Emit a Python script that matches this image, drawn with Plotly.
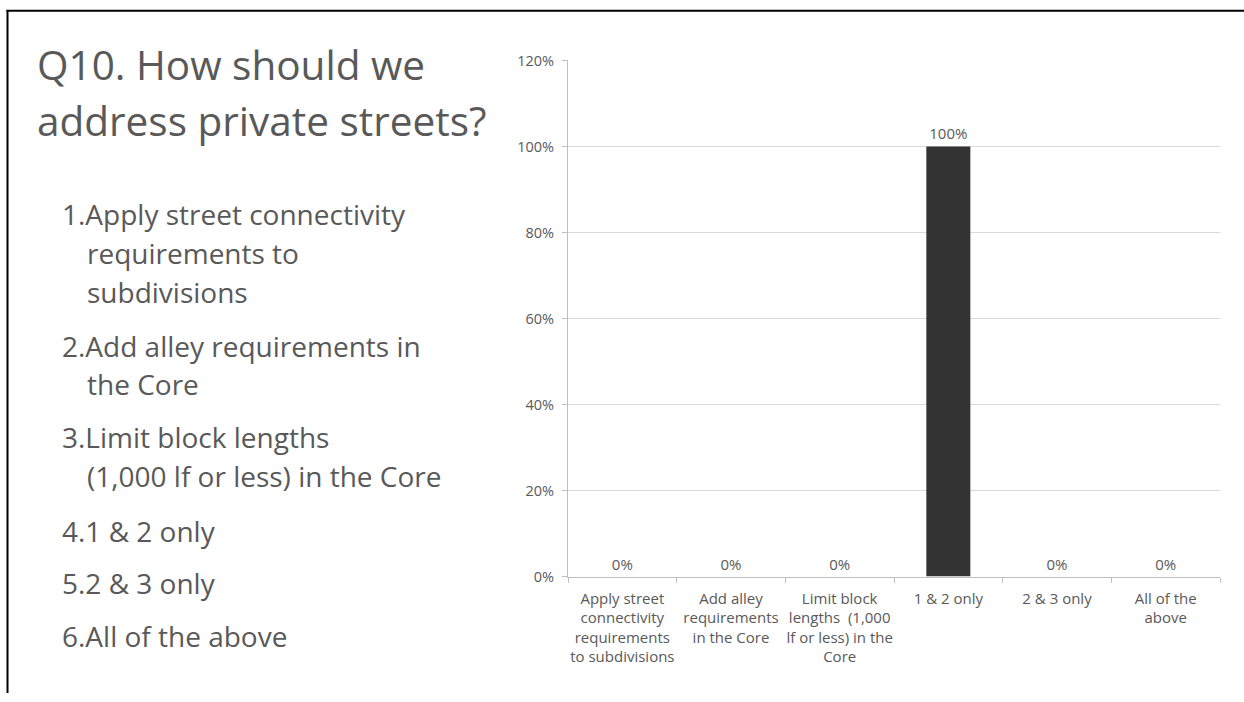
import plotly.graph_objects as go

W, H = 1244, 702

# Survey answers and their share of responses
categories = [
    "Apply street<br>connectivity<br>requirements<br>to subdivisions",
    "Add alley<br>requirements<br>in the Core",
    "Limit block<br>lengths  (1,000<br>lf or less) in the<br>Core",
    "1 & 2 only",
    "2 & 3 only",
    "All of the<br>above",
]
shares = [0.0, 0.0, 0.0, 1.0, 0.0, 0.0]

y_ticks = [0.0, 0.2, 0.4, 0.6, 0.8, 1.0, 1.2]

title_lines = ["Q10. How should we", "address private streets?"]
option_lines = [
    ("1.Apply street connectivity", False),
    ("requirements to", True),
    ("subdivisions", True),
    ("2.Add alley requirements in", False),
    ("the Core", True),
    ("3.Limit block lengths", False),
    ("(1,000 lf or less) in the Core", True),
    ("4.1 & 2 only", False),
    ("5.2 & 3 only", False),
    ("6.All of the above", False),
]

FONT = "'Open Sans', Lato, sans-serif"
TEXT = "#595959"

# vertical band of the page occupied by the figure
TOP, BAND = 8.0, 686.0


def px(x):
    return x / W


def py(y):
    return 1 - (y - TOP) / BAND


fig = go.Figure(
    go.Bar(
        x=categories,
        y=shares,
        marker=dict(color="#333333", line=dict(width=0)),
        texttemplate="%{y:.0%}",
        textposition="outside",
        cliponaxis=False,
        textfont=dict(family=FONT, size=15, color=TEXT),
    )
)

annotations = []
title_y = [63, 119]
for txt, yc in zip(title_lines, title_y):
    annotations.append(dict(
        text=txt, x=px(35), y=py(yc), xref="paper", yref="paper",
        xanchor="left", yanchor="middle", showarrow=False,
        font=dict(family=FONT, size=40.5, color=TEXT),
    ))

option_y = [213, 252, 291, 345, 384, 437, 476, 531, 584, 637]
for (txt, indent), yc in zip(option_lines, option_y):
    annotations.append(dict(
        text=txt, x=px(85 if indent else 60), y=py(yc),
        xref="paper", yref="paper",
        xanchor="left", yanchor="middle", showarrow=False,
        font=dict(family=FONT, size=28, color=TEXT),
    ))

fig.update_layout(
    width=W, height=H,
    margin=dict(l=0, r=0, t=0, b=0),
    paper_bgcolor="white", plot_bgcolor="white",
    showlegend=False,
    bargap=0.595,
    annotations=annotations,
    xaxis=dict(
        domain=[px(568), px(1220)],
        type="category",
        tickson="boundaries",
        ticks="outside", ticklen=5, tickcolor="#bfbfbf",
        showline=True, linecolor="#bfbfbf", linewidth=1,
        showgrid=False,
        tickfont=dict(family=FONT, size=15, color=TEXT),
        tickangle=0,
        ticklabelstandoff=8,
        fixedrange=True,
    ),
    yaxis=dict(
        domain=[py(577), py(58.7)],
        range=[0, 1.2],
        tickvals=y_ticks,
        tickformat=".0%",
        ticks="outside", ticklen=5, tickcolor="#bfbfbf",
        showline=True, linecolor="#bfbfbf", linewidth=1,
        showgrid=True, gridcolor="#d9d9d9", gridwidth=1,
        zeroline=False,
        ticklabelstandoff=5,
        tickfont=dict(family=FONT, size=14.5, color=TEXT),
        fixedrange=True,
    ),
    shapes=[
        dict(type="line", xref="paper", yref="paper",
             x0=px(6.5), x1=1, y0=py(8.8), y1=py(8.8),
             line=dict(color="black", width=2)),
        dict(type="line", xref="paper", yref="paper",
             x0=px(7.5), x1=px(7.5), y0=py(8), y1=0,
             line=dict(color="black", width=2)),
    ],
)

fig.write_html("out.html", config={"displayModeBar": False})
